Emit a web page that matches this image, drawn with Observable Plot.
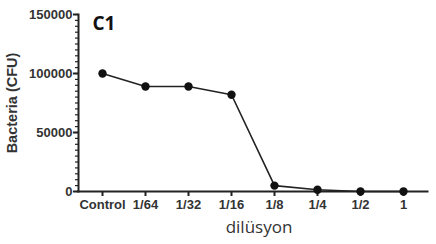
<!DOCTYPE html>
<html><head><meta charset="utf-8">
<script src="https://cdn.jsdelivr.net/npm/d3@7"></script>
<script src="https://cdn.jsdelivr.net/npm/@observablehq/plot@0.6"></script>
<style>body{margin:0;background:#fff}</style>
</head><body><div id="chart"></div>
<script>
const categories = ["Control","1/64","1/32","1/16","1/8","1/4","1/2","1"];
const bacteria = [100000, 89000, 89000, 82000, 5000, 1500, 0, 0];
const majorTicks = [0, 50000, 100000, 150000];
const minorTicks = d3.range(0, 150001, 5000);
const title = "C1";
const xLabel = "dilüsyon";
const yLabel = "Bacteria (CFU)";

const data = categories.map((c, i) => ({dil: c, cfu: bacteria[i]}));
const tickFont = "Liberation Sans, Arial, sans-serif";

const chart = Plot.plot({
  width: 436, height: 244,
  marginLeft: 78, marginRight: 9, marginTop: 14, marginBottom: 53,
  style: {fontFamily: tickFont, background: "#fff"},
  x: {type: "point", domain: categories, padding: 0.5},
  y: {domain: [0, 150000]},
  marks: [
    Plot.axisY({ticks: minorTicks, tickSize: 3, text: null, label: null, strokeWidth: 1.2, stroke: "#222"}),
    Plot.axisY({ticks: majorTicks, tickSize: 5, tickPadding: 1, label: null, strokeWidth: 2, stroke: "#222",
      fontSize: 13, fontWeight: "bold", fill: "#333", tickFormat: d => String(d)}),
    Plot.axisX({tickSize: 5, tickPadding: 3, label: null, strokeWidth: 2, stroke: "#222",
      fontSize: 13, fontWeight: "bold", fill: "#333"}),
    Plot.frame({anchor: "left", stroke: "#222", strokeWidth: 2}),
    Plot.frame({anchor: "bottom", stroke: "#222", strokeWidth: 2}),
    Plot.line(data, {x: "dil", y: "cfu", stroke: "#222", strokeWidth: 1.6}),
    Plot.dot(data, {x: "dil", y: "cfu", r: 4.2, fill: "#111", stroke: "none"}),
    Plot.text([title], {frameAnchor: "top-left", dx: 14, dy: 2, fontSize: 19, fontWeight: "bold", fontFamily: "Open Sans, sans-serif", fill: "#111", textAnchor: "start", lineAnchor: "top"}),
    Plot.text([xLabel], {frameAnchor: "bottom", dx: 6, dy: 41, fontSize: 17, fill: "#333", fontFamily: "Open Sans, sans-serif"}),
    Plot.text([yLabel], {frameAnchor: "left", dx: -66, rotate: -90, textAnchor: "middle", fontSize: 14.5, fontWeight: "bold", fill: "#333", fontFamily: tickFont})
  ]
});
document.getElementById("chart").appendChild(chart);
</script>
</body></html>
